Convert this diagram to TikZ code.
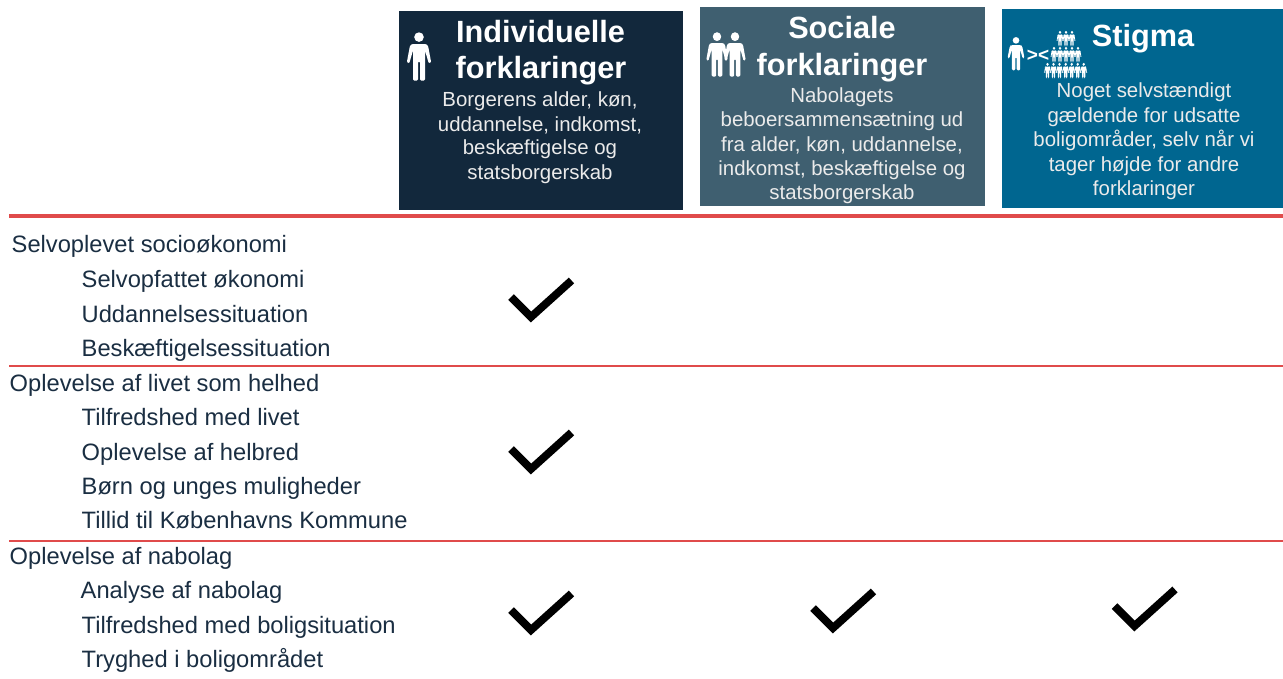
\documentclass[tikz,border=0pt]{standalone}
\usepackage{fontspec}
\setmainfont{Liberation Sans}
\definecolor{navy}{HTML}{12283C}
\definecolor{slate}{HTML}{3F5F70}
\definecolor{teal}{HTML}{006690}
\definecolor{rule}{HTML}{E04B4B}
\definecolor{txt}{HTML}{1A2E42}
\tikzset{
  x=1pt,y=-1pt,
  title/.style={text=white,font=\fontsize{30.7}{30.7}\bfseries\selectfont,anchor=base,inner sep=0pt},
  body/.style={text=white!92!black,font=\fontsize{20.4}{20.4}\selectfont,anchor=base,inner sep=0pt},
  lab/.style={text=txt,font=\fontsize{23.7}{23.7}\selectfont,anchor=base west,inner sep=0pt},
  person/.pic={
    \fill[white] (0,5.6) circle[radius=4.8];
    \fill[white,rounded corners=1.2] (-7,12.5) -- (7,12.5) -- (9,14) -- (12.2,31) -- (9.8,32) -- (6,19) -- (6,49) -- (1,49) -- (1,30) -- (-1,30) -- (-1,49) -- (-6,49) -- (-6,19) -- (-9.8,32) -- (-12.2,31) -- (-9,14) -- cycle;
  },
  tick/.pic={
    \draw[black,line width=7.8pt,line join=miter] (-29.5,-3) -- (-9.5,17) -- (31,-19.5);
  }
}
\begin{document}
\begin{tikzpicture}
\useasboundingbox (0,0) rectangle (1283,678);
\fill[white] (0,0) rectangle (1283,678);
% header boxes
\fill[navy] (399,11) rectangle (683,209.5);
\fill[slate] (700,7) rectangle (985,206);
\fill[teal] (1002,9) rectangle (1283,208);
% rules
\draw[rule,line width=3.4pt] (9,216) -- (1283,216);
\draw[rule,line width=1.3pt] (9,366) -- (1283,366);
\draw[rule,line width=1.3pt] (9,541) -- (1283,541);
% column 1
\pic at (419,31.5) {person};
\node[title] (t1a) at (540.5,42) {Individuelle};
\node[title] (t1b) at (541,78) {forklaringer};
\node[body] (b1a) at (540,106.5) {Borgerens alder, køn,};
\node[body] (b1b) at (540,131) {uddannelse, indkomst,};
\node[body] (b1c) at (540,154.5) {beskæftigelse og};
\node[body] (b1d) at (540,179) {statsborgerskab};
% column 2
\pic[xscale=0.88,yscale=0.92] at (717,31.5) {person};
\pic[xscale=0.88,yscale=0.92] at (735,31.5) {person};
\node[title] (t2a) at (842,38) {Sociale};
\node[title] (t2b) at (842,75) {forklaringer};
\node[body] (b2a) at (842,102) {Nabolagets};
\node[body] (b2b) at (842,126) {beboersammensætning ud};
\node[body] (b2c) at (842,151) {fra alder, køn, uddannelse,};
\node[body] (b2d) at (842,175) {indkomst, beskæftigelse og};
\node[body] (b2e) at (842,199) {statsborgerskab};
% column 3
\pic[scale=0.69] at (1016,36.5) {person};
\node[text=white,font=\fontsize{19}{19}\bfseries\selectfont,anchor=base,inner sep=0pt] (gl) at (1038,61) {><};
\foreach \cx in {1060,1066,1072} \pic[xscale=0.27,yscale=0.32] at (\cx,30.5) {person};
\foreach \cx in {1054,1060,1066,1072,1078} \pic[xscale=0.27,yscale=0.32] at (\cx,46.5) {person};
\foreach \cx in {1047.5,1053.5,1059.5,1065.7,1071.7,1077.7,1083.7} \pic[xscale=0.27,yscale=0.32] at (\cx,62.5) {person};
\node[title] (t3a) at (1143,46) {Stigma};
\node[body] (b3a) at (1144,97) {Noget selvstændigt};
\node[body] (b3b) at (1144,122) {gældende for udsatte};
\node[body] (b3c) at (1144,146) {boligområder, selv når vi};
\node[body] (b3d) at (1144,171) {tager højde for andre};
\node[body] (b3e) at (1144,195) {forklaringer};
% row labels
\node[lab] (l1) at (11.5,252.7) {Selvoplevet socioøkonomi};
\node[lab] (l2) at (81.5,287.7) {Selvopfattet økonomi};
\node[lab] (l3) at (81.5,322.2) {Uddannelsessituation};
\node[lab] (l4) at (81.5,356.7) {Beskæftigelsessituation};
\node[lab] (l5) at (9.5,391.7) {Oplevelse af livet som helhed};
\node[lab] (l6) at (81.5,425.7) {Tilfredshed med livet};
\node[lab] (l7) at (81.5,460.2) {Oplevelse af helbred};
\node[lab] (l8) at (81.5,494.7) {Børn og unges muligheder};
\node[lab] (l9) at (81.5,528.7) {Tillid til Københavns Kommune};
\node[lab] (l10) at (9.5,564.7) {Oplevelse af nabolag};
\node[lab] (l11) at (80.5,598.7) {Analyse af nabolag};
\node[lab] (l12) at (81.5,633.7) {Tilfredshed med boligsituation};
\node[lab] (l13) at (81.5,667.7) {Tryghed i boligområdet};
% ticks
\pic at (540.5,300) {tick};
\pic at (540.5,452) {tick};
\pic at (540.5,613) {tick};
\pic at (842.5,611) {tick};
\pic at (1144,609) {tick};
\end{tikzpicture}
\end{document}
